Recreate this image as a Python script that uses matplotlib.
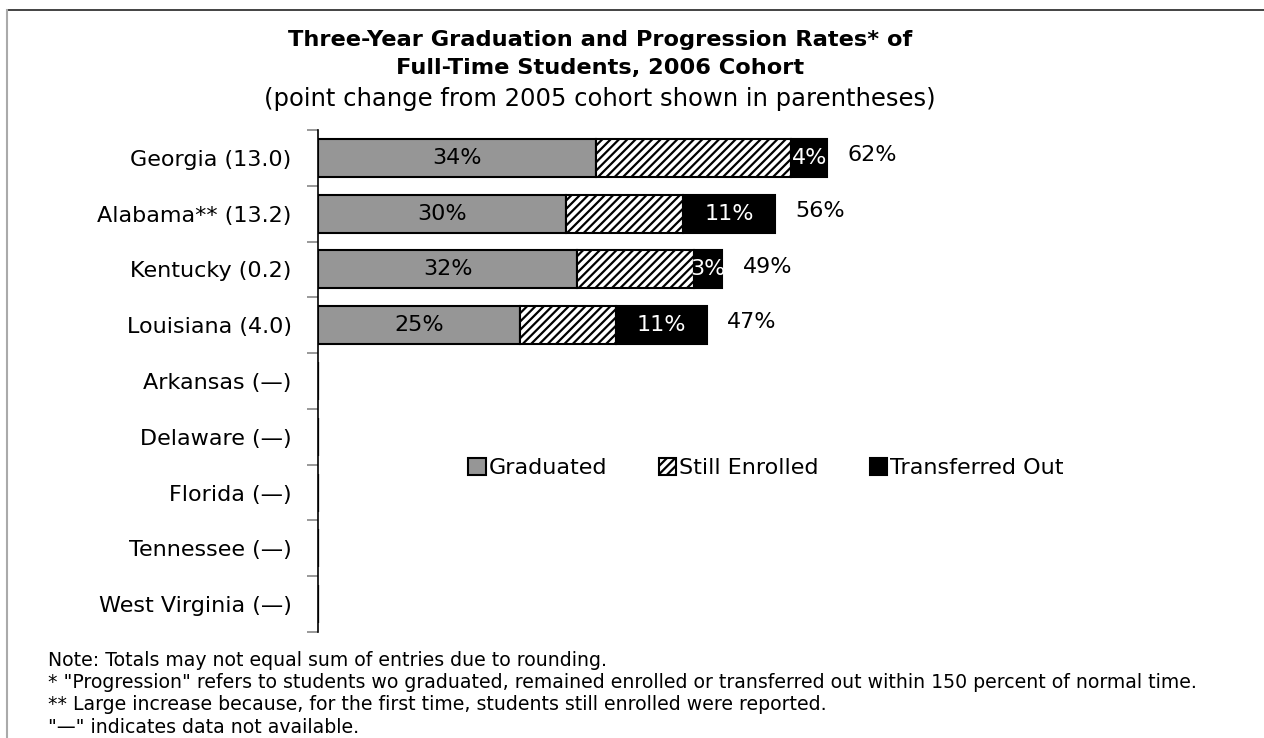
import matplotlib
matplotlib.use("Agg")
import matplotlib.pyplot as plt
from matplotlib.lines import Line2D
import numpy as np

plt.rcParams['font.family'] = ['DejaVu Sans']
plt.rcParams['hatch.linewidth'] = 1.6

states = ["Georgia (13.0)", "Alabama** (13.2)", "Kentucky (0.2)", "Louisiana (4.0)",
          "Arkansas (\u2014)", "Delaware (\u2014)", "Florida (\u2014)", "Tennessee (\u2014)",
          "West Virginia (\u2014)"]
graduated = [33.9, 30.2, 31.6, 24.6, 0, 0, 0, 0, 0]
still_enrolled = [23.8, 14.3, 14.3, 11.8, 0, 0, 0, 0, 0]
transferred = [4.4, 11.2, 3.4, 11.0, 0, 0, 0, 0, 0]
grad_labels = ["34%", "30%", "32%", "25%"]
trans_labels = ["4%", "11%", "3%", "11%"]
total_labels = ["62%", "56%", "49%", "47%"]

fig = plt.figure(figsize=(12.64, 7.38), dpi=100)
ax = fig.add_axes([318/1264, 1-632/738, 820/1264, 502/738])

y = np.arange(len(states))
h = 0.68
g = np.array(graduated)
s = np.array(still_enrolled)
t = np.array(transferred)
ax.barh(y, g, height=h, color='#969696', edgecolor='black', linewidth=1.5, label='Graduated')
ax.barh(y, s, left=g, height=h, color='white', edgecolor='black', linewidth=1.5,
        hatch='////', label='Still Enrolled')
ax.barh(y, t, left=g + s, height=h, color='black', edgecolor='black', linewidth=1.5,
        label='Transferred Out')

fs = 16
for i in range(len(grad_labels)):
    ax.text(g[i] / 2, y[i], grad_labels[i], ha='center', va='center', fontsize=fs, color='black')
    ax.text(g[i] + s[i] + t[i] / 2, y[i], trans_labels[i], ha='center', va='center',
            fontsize=fs, color='white')
    ax.text(g[i] + s[i] + t[i] + 2.5, y[i] - 0.05, total_labels[i], ha='left', va='center',
            fontsize=fs, color='black')

ax.set_xlim(0, 100)
ax.set_ylim(len(states) - 0.5, -0.5)
ax.set_yticks(y)
ax.set_yticklabels(states, fontsize=fs)
ax.tick_params(axis='y', which='major', length=0, pad=19)
ax.set_yticks(np.arange(-0.5, len(states), 1), minor=True)
ax.tick_params(axis='y', which='minor', length=8, color='#888888', width=1.2, direction='out')
ax.set_xticks([])
for sp in ['top', 'right', 'bottom']:
    ax.spines[sp].set_visible(False)
ax.spines['left'].set_linewidth(1.2)

leg = ax.legend(loc='center', bbox_to_anchor=((766-318)/820, (632-468)/502), ncol=3,
                frameon=False, fontsize=fs, handlelength=0.8, handleheight=0.8,
                handletextpad=0.12, columnspacing=2.3)

fig.text(600/1264, 1-40/738, "Three-Year Graduation and Progression Rates* of",
         ha='center', va='center', fontsize=16.2, fontweight='bold')
fig.text(600/1264, 1-68/738, "Full-Time Students, 2006 Cohort",
         ha='center', va='center', fontsize=16.2, fontweight='bold')
fig.text(600/1264, 1-99/738, "(point change from 2005 cohort shown in parentheses)",
         ha='center', va='center', fontsize=17.5)

notes = ["Note: Totals may not equal sum of entries due to rounding.",
         "* \"Progression\" refers to students wo graduated, remained enrolled or transferred out within 150 percent of normal time.",
         "** Large increase because, for the first time, students still enrolled were reported.",
         "\"\u2014\" indicates data not available."]
for k, n in enumerate(notes):
    fig.text(48/1264, 1-(660+22.5*k)/738, n, ha='left', va='center', fontsize=13.6)

fig.add_artist(Line2D([7/1264, 1], [1-10/738, 1-10/738], transform=fig.transFigure,
                      color='#222222', linewidth=1.2))
fig.add_artist(Line2D([7/1264, 7/1264], [0, 1-10/738], transform=fig.transFigure,
                      color='#aaaaaa', linewidth=1.5))

fig.savefig("out.png", dpi=100)
